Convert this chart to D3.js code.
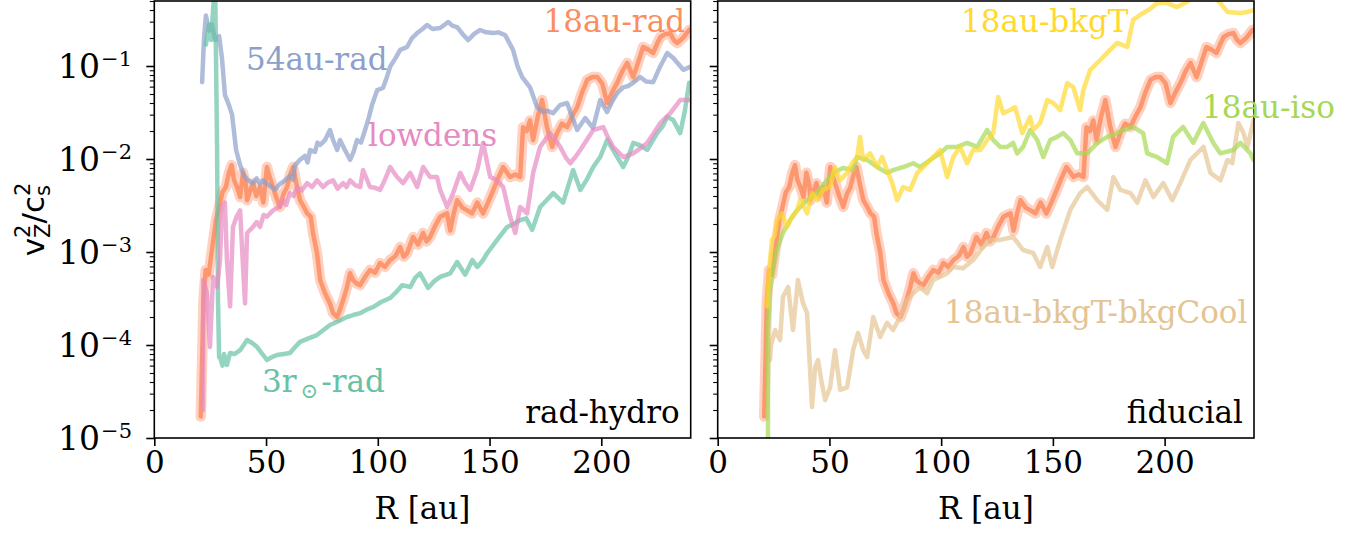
<!DOCTYPE html>
<html>
<head>
<meta charset="utf-8">
<script src="https://cdn.jsdelivr.net/npm/d3@7"></script>
<style>
  body { margin: 0; background: #fff; }
  text { font-family: "DejaVu Serif"; fill: #000; }
</style>
</head>
<body>
<svg id="chart"></svg>
<script>
// v_z^2 / c_s^2 profiles against radius, two panels

// 18au-rad (fiducial), drawn in both panels
let rad18 = [[20.8,1.7e-5],[21.4,6.9e-5],[22.0,3.0e-4],[23.0,6.4e-4],[24.3,5.7e-4],[25.8,1.05e-3],[27.6,2.2e-3],[29.0,3.05e-3],
  [30.5,4.4e-3],[32.0,5.0e-3],[33.4,7.1e-3],[34.6,8.6e-3],[35.6,6.0e-3],[37.0,5.0e-3],[38.4,3.9e-3],[39.7,7.1e-3],[41.0,5.2e-3],
  [41.5,3.6e-3],[43.0,4.6e-3],[44.2,5.5e-3],[45.6,4.0e-3],[47.3,5.0e-3],[48.8,3.4e-3],[50.4,8.2e-3],[51.8,6.2e-3],[53.1,5.0e-3],
  [54.5,3.9e-3],[56.2,3.05e-3],[57.8,4.2e-3],[59.4,5.0e-3],[60.8,6.8e-3],[62.1,8.2e-3],[63.6,5.4e-3],[65.2,3.6e-3],[66.8,3.1e-3],
  [68.4,2.6e-3],[70.0,2.4e-3],[71.0,1.6e-3],[72.8,9.7e-4],[74.2,5.0e-4],[76.4,3.6e-4],[78.6,2.8e-4],[80.0,2.2e-4],[81.8,2.0e-4],
  [83.1,2.4e-4],[84.8,3.2e-4],[86.2,4.2e-4],[87.6,5.9e-4],[88.9,5.0e-4],[90.5,4.6e-4],[92.1,4.4e-4],[94.3,5.4e-4],[96.5,6.4e-4],
  [98.8,6.0e-4],[101.0,7.6e-4],[103.2,6.9e-4],[105.5,8.2e-4],[107.8,9.0e-4],[110.0,1.13e-3],[111.6,8.9e-4],[113.1,9.7e-4],
  [115.8,1.45e-3],[118.0,1.2e-3],[120.3,1.6e-3],[121.8,1.3e-3],[123.4,1.45e-3],[125.6,1.9e-3],[127.9,2.4e-3],[131.0,2.6e-3],
  [132.4,1.7e-3],[134.0,2.6e-3],[135.5,3.6e-3],[137.8,3.0e-3],[140.0,2.8e-3],[142.2,2.6e-3],[144.5,3.4e-3],[147.1,2.6e-3],
  [149.3,3.4e-3],[151.6,4.6e-3],[153.8,6.2e-3],[156.1,8.2e-3],[159.2,6.4e-3],[161.5,6.8e-3],[163.7,6.4e-3],[165.0,2.2e-2],
  [166.6,2.0e-2],[168.1,2.6e-2],[169.5,1.6e-2],[171.5,2.8e-2],[173.5,4.3e-2],[175.7,2.2e-2],[178.0,1.35e-2],[180.2,1.9e-2],
  [182.4,2.4e-2],[184.7,2.2e-2],[187.0,2.9e-2],[189.2,3.6e-2],[191.4,5.2e-2],[193.7,7.1e-2],[196.0,7.6e-2],[198.2,7.6e-2],
  [200.4,6.5e-2],[202.6,4.0e-2],[205.0,5.3e-2],[207.1,6.6e-2],[209.4,8.8e-2],[211.6,1.08e-1],[214.3,7.6e-2],[216.5,1.1e-1],
  [218.7,1.6e-1],[221.0,1.5e-1],[223.2,1.38e-1],[224.8,1.7e-1],[226.4,2.05e-1],[228.6,2.2e-1],[230.8,2.26e-1],[232.4,1.9e-1],
  [233.9,1.77e-1],[236.5,2.0e-1],[239.3,2.44e-1]];

let rad54 = [[21.4,6.7e-2],[22.2,1.9e-1],[23.1,3.5e-1],[24.5,2.4e-1],[25.8,2.8e-1],[27.2,1.9e-1],[29.0,2.1e-1],[30.3,1.2e-1],
  [31.6,4.9e-2],[33.4,3.8e-2],[34.8,3.0e-2],[36.6,1.25e-2],[38.4,8.6e-3],[40.1,6.7e-3],[41.9,5.9e-3],[44.2,5.5e-3],[45.8,6.2e-3],
  [47.3,5.4e-3],[48.6,5.9e-3],[50.0,5.5e-3],[51.8,5.1e-3],[54.0,4.7e-3],[56.2,5.4e-3],[58.5,5.9e-3],[60.7,6.6e-3],[62.0,6.0e-3],
  [63.0,8.6e-3],[65.2,9.8e-3],[67.4,1.08e-2],[68.6,9.2e-3],[69.7,1.25e-2],[71.9,1.19e-2],[73.0,1.5e-2],[74.2,1.42e-2],[76.4,1.6e-2],
  [78.6,2.05e-2],[80.0,1.6e-2],[81.8,1.25e-2],[83.1,1.6e-2],[85.3,1.25e-2],[87.6,9.8e-3],[89.2,1.2e-2],[90.7,1.6e-2],[92.5,1.5e-2],
  [94.3,2.05e-2],[96.0,2.8e-2],[97.4,3.8e-2],[99.7,5.5e-2],[102.3,5.8e-2],[104.0,7.5e-2],[105.5,9.8e-2],[107.8,1.2e-1],
  [110.0,1.49e-1],[113.1,1.6e-1],[115.3,2.0e-1],[117.6,2.26e-1],[120.0,2.5e-1],[122.1,2.76e-1],[124.5,2.5e-1],[127.9,2.56e-1],
  [131.5,2.97e-1],[133.5,2.7e-1],[135.5,2.62e-1],[138.0,2.2e-1],[140.4,1.9e-1],[143.0,2.2e-1],[145.8,2.44e-1],[148.5,2.3e-1],
  [151.6,2.26e-1],[154.0,2.3e-1],[157.0,2.15e-1],[160.5,1.49e-1],[162.5,1.0e-1],[164.6,7.6e-2],[168.1,5.9e-2],[171.3,3.6e-2],
  [174.0,3.2e-2],[176.0,3.3e-2],[178.4,3.1e-2],[181.5,3.8e-2],[184.7,4.0e-2],[187.0,2.8e-2],[189.2,2.05e-2],[192.8,2.76e-2],
  [196.3,2.15e-2],[199.5,4.3e-2],[202.6,3.2e-2],[205.0,4.2e-2],[207.1,5.1e-2],[209.8,5.9e-2],[212.0,6.1e-2],[214.3,6.6e-2],
  [217.4,7.6e-2],[220.0,6.8e-2],[223.2,6.7e-2],[226.0,9.5e-2],[229.5,1.38e-1],[232.2,1.22e-1],[236.7,9.1e-2],[239.8,9.8e-2]];

let lowdens = [[21.8,2.0e-5],[21.9,5.0e-4],[23.6,3.6e-4],[24.9,9.5e-5],[26.3,5.4e-4],[28.1,4.2e-4],[29.4,8.2e-4],[30.3,3.05e-3],
  [31.6,3.4e-3],[32.5,8.2e-4],[33.9,2.6e-4],[35.2,1.86e-3],[36.8,2.4e-3],[38.4,2.8e-3],[39.7,6.9e-4],[40.6,2.8e-4],[41.5,1.6e-3],
  [44.2,1.86e-3],[45.8,2.1e-3],[47.3,1.86e-3],[48.9,2.5e-3],[50.4,2.4e-3],[53.1,2.8e-3],[55.3,3.0e-3],[57.6,3.6e-3],[59.0,3.2e-3],
  [60.7,4.3e-3],[62.3,4.0e-3],[63.9,5.0e-3],[66.0,4.6e-3],[68.4,5.5e-3],[70.6,5.0e-3],[72.8,5.9e-3],[75.5,5.0e-3],[77.8,5.6e-3],
  [80.0,5.9e-3],[82.0,4.8e-3],[84.5,5.5e-3],[86.0,5.0e-3],[87.6,5.9e-3],[90.0,5.2e-3],[92.1,5.0e-3],[93.4,7.6e-3],[96.5,5.0e-3],
  [98.8,4.9e-3],[101.0,4.65e-3],[103.2,6.0e-3],[105.5,8.2e-3],[108.6,6.4e-3],[111.3,5.5e-3],[114.5,7.1e-3],[117.6,5.0e-3],
  [120.3,8.2e-3],[123.4,6.4e-3],[126.5,6.4e-3],[127.9,4.65e-3],[131.0,3.05e-3],[133.7,4.3e-3],[136.9,7.1e-3],[139.0,5.6e-3],
  [141.3,4.65e-3],[144.5,7.6e-3],[147.1,1.49e-2],[150.3,6.4e-3],[153.4,5.9e-3],[156.1,5.0e-3],[159.2,2.4e-3],[161.5,1.6e-3],
  [163.7,3.05e-3],[166.8,2.6e-3],[169.5,7.1e-3],[172.6,1.35e-2],[177.1,1.9e-2],[179.4,1.6e-2],[181.6,1.35e-2],[184.0,1.05e-2],
  [186.1,9.0e-3],[188.4,1.05e-2],[190.6,1.25e-2],[193.5,1.6e-2],[196.4,2.05e-2],[200.9,2.2e-2],[203.0,1.7e-2],[205.3,1.35e-2],
  [209.8,1.05e-2],[214.3,1.15e-2],[217.4,1.3e-2],[220.5,1.49e-2],[223.5,1.9e-2],[226.4,2.44e-2],[230.8,3.1e-2],[235.3,4.3e-2],
  [239.3,4.3e-2]];

let sun3 = [[23.1,1.7e-1],[24.5,2.8e-1],[25.4,1.9e-1],[26.3,4.0e-1],[27.2,8.0e-1],[28.1,1.25e-2],[28.5,3.0e-4],[29.0,7.4e-5],
  [29.4,7.4e-5],[30.5,6.0e-5],[31.2,8.0e-5],[32.5,6.1e-5],[33.9,8.2e-5],[36.0,8.0e-5],[38.4,8.8e-5],[40.0,1.0e-4],[41.5,1.13e-4],
  [43.8,1.05e-4],[46.0,9.5e-5],[48.0,8.2e-5],[50.4,6.9e-5],[52.6,7.4e-5],[54.9,7.8e-5],[58.0,8.0e-5],[60.7,8.2e-5],[63.0,9.5e-5],
  [65.2,1.08e-4],[69.0,1.18e-4],[72.8,1.28e-4],[75.7,1.45e-4],[78.6,1.64e-4],[82.4,1.8e-4],[86.2,2.0e-4],[89.0,2.1e-4],[92.1,2.2e-4],
  [95.0,2.4e-4],[97.9,2.56e-4],[101.5,2.9e-4],[105.5,3.2e-4],[108.2,3.7e-4],[110.9,4.4e-4],[114.5,4.2e-4],[116.8,5.3e-4],
  [118.9,5.9e-4],[122.5,4.1e-4],[125.0,4.8e-4],[127.9,5.4e-4],[132.4,5.9e-4],[135.5,7.8e-4],[139.1,5.7e-4],[142.3,8.2e-4],
  [144.5,6.9e-4],[146.8,8.0e-4],[149.0,9.75e-4],[153.4,1.35e-3],[157.9,1.86e-3],[160.8,2.0e-3],[163.7,2.2e-3],[166.4,2.3e-3],
  [169.1,1.73e-3],[172.6,3.05e-3],[175.5,3.6e-3],[178.5,4.3e-3],[182.9,3.4e-3],[187.4,7.6e-3],[190.6,4.65e-3],[193.5,6.0e-3],
  [196.4,8.2e-3],[199.5,1.05e-2],[202.6,1.6e-2],[205.3,1.25e-2],[209.8,8.2e-3],[212.0,1.05e-2],[214.3,1.49e-2],[217.4,1.4e-2],
  [220.5,1.25e-2],[225.0,1.9e-2],[227.2,2.2e-2],[229.5,2.83e-2],[232.2,2.62e-2],[235.3,1.9e-2],[237.3,3.2e-2],[239.3,6.6e-2]];

let bkgT = [[21.6,3.0e-4],[22.1,2.6e-4],[23.0,6.4e-4],[24.3,1.35e-3],[25.5,1.5e-3],[26.6,2.2e-3],[28.8,2.6e-3],[31.0,1.86e-3],
  [33.3,2.4e-3],[35.5,2.8e-3],[36.9,3.6e-3],[38.5,3.1e-3],[40.0,2.6e-3],[42.2,4.3e-3],[44.5,3.6e-3],[47.2,4.65e-3],[50.3,5.0e-3],
  [52.5,8.2e-3],[54.8,5.9e-3],[57.9,7.1e-3],[60.1,9.0e-3],[62.4,1.05e-2],[63.7,1.73e-2],[65.1,9.75e-3],[68.2,1.15e-2],
  [71.3,8.2e-3],[73.6,1.05e-2],[75.8,7.6e-3],[78.1,5.5e-3],[80.3,3.6e-3],[83.0,5.0e-3],[86.1,4.65e-3],[89.3,7.1e-3],[93.7,9.0e-3],
  [96.4,1.05e-2],[99.5,1.25e-2],[102.7,6.4e-3],[105.4,1.05e-2],[108.5,1.35e-2],[111.6,9.0e-3],[114.3,1.25e-2],[117.5,1.25e-2],
  [120.6,1.6e-2],[123.3,1.9e-2],[125.5,4.65e-2],[127.8,3.1e-2],[130.9,3.36e-2],[133.1,3.6e-2],[136.3,1.9e-2],[139.8,2.83e-2],
  [141.2,2.05e-2],[144.3,2.44e-2],[147.5,4.3e-2],[150.2,4.0e-2],[153.3,3.36e-2],[156.4,6.56e-2],[159.1,5.94e-2],[162.2,3.36e-2],
  [163.6,5.5e-2],[166.7,9.1e-2],[171.2,1.16e-1],[175.6,1.49e-1],[178.8,1.77e-1],[183.3,1.6e-1],[185.9,3.13e-1],[190.4,3.72e-1],
  [193.5,4.1e-1],[196.7,4.75e-1],[201.1,4.75e-1],[205.6,4.3e-1],[210.1,4.9e-1],[213.8,5.8e-1],[218.3,6.0e-1],[222.8,5.3e-1],
  [225.0,4.75e-1],[228.1,3.81e-1],[233.9,3.72e-1],[237.0,3.8e-1],[239.8,4.0e-1]];

let iso18 = [[22.5,7.0e-6],[22.5,1.45e-4],[23.4,3.9e-4],[24.8,6.4e-4],[26.5,1.05e-3],[29.2,1.6e-3],[32.4,2.2e-3],[35.5,2.8e-3],
  [40.0,3.6e-3],[44.5,4.3e-3],[48.9,5.9e-3],[51.6,7.1e-3],[56.1,8.0e-3],[60.6,7.6e-3],[62.4,1.05e-2],[66.9,9.75e-3],[71.3,8.2e-3],
  [75.8,7.1e-3],[78.5,7.6e-3],[83.0,8.2e-3],[87.5,9.0e-3],[90.6,8.2e-3],[95.1,9.75e-3],[99.5,1.15e-2],[102.7,1.35e-2],
  [107.2,1.35e-2],[111.6,1.49e-2],[116.1,1.35e-2],[120.6,2.05e-2],[123.3,1.6e-2],[126.4,1.35e-2],[129.6,1.35e-2],[132.2,1.49e-2],
  [134.0,1.15e-2],[136.7,1.35e-2],[139.8,2.05e-2],[143.0,1.6e-2],[145.7,1.05e-2],[148.8,1.6e-2],[151.9,1.73e-2],[154.6,1.9e-2],
  [157.8,1.6e-2],[160.9,1.15e-2],[165.4,1.15e-2],[169.9,1.49e-2],[174.3,1.73e-2],[178.8,1.9e-2],[181.5,2.05e-2],[185.9,2.21e-2],
  [190.4,1.9e-2],[192.2,1.15e-2],[196.7,1.05e-2],[201.1,9.0e-3],[203.8,1.73e-2],[208.3,2.21e-2],[212.8,1.49e-2],[217.3,2.44e-2],
  [221.8,1.49e-2],[224.9,1.15e-2],[230.8,1.25e-2],[233.9,1.49e-2],[238.4,1.15e-2],[239.8,9.75e-3]];

let bkgCool = [[23.4,6.9e-5],[23.9,1.0e-4],[25.7,1.45e-4],[27.9,1.13e-4],[29.2,3.3e-4],[31.5,4.2e-4],[33.7,1.45e-4],[35.9,5.0e-4],
  [38.2,2.8e-4],[40.0,2.2e-4],[42.2,2.15e-5],[43.6,5.8e-5],[44.9,6.9e-5],[46.5,4.0e-5],[48.1,2.56e-5],[50.3,3.5e-5],[52.5,8.8e-5],
  [54.8,3.3e-5],[57.9,3.5e-5],[60.6,8.8e-5],[62.8,1.35e-4],[65.1,8.8e-5],[66.9,7.4e-5],[69.6,2.0e-4],[72.7,1.22e-4],[75.8,1.73e-4],
  [78.5,1.45e-4],[81.6,2.0e-4],[84.8,3.05e-4],[87.5,3.6e-4],[90.6,4.2e-4],[93.7,3.6e-4],[96.4,5.0e-4],[99.5,5.4e-4],[102.7,5.9e-4],
  [105.4,6.9e-4],[109.8,6.7e-4],[114.3,8.2e-4],[118.8,1.13e-3],[121.9,1.35e-3],[126.4,1.35e-3],[132.2,1.45e-3],[136.7,1.05e-3],
  [141.2,9.75e-4],[144.3,6.9e-4],[147.5,1.13e-3],[149.7,6.9e-4],[153.3,1.35e-3],[157.8,2.83e-3],[162.2,4.3e-3],[165.4,5.0e-3],
  [169.9,3.6e-3],[174.3,2.83e-3],[177.1,6.4e-3],[180.2,4.65e-3],[184.7,4.3e-3],[187.8,3.4e-3],[191.4,5.9e-3],[195.0,3.9e-3],
  [199.4,5.5e-3],[203.4,3.6e-3],[207.0,5.5e-3],[211.5,9.75e-3],[217.4,1.35e-2],[220.5,7.1e-3],[225.0,5.9e-3],[228.1,9.75e-3],
  [230.3,9.05e-3],[233.0,2.44e-2],[235.3,1.9e-2],[237.1,1.35e-2],[239.8,2.62e-2]];

let xTicks = [0, 50, 100, 150, 200];
let yMajor = [1e-5, 1e-4, 1e-3, 1e-2, 1e-1];
let yExp = ["\u22125", "\u22124", "\u22123", "\u22122", "\u22121"];

let svgWidth = 1361;
let svgHeight = 536;
let plotTop = 1, plotBottom = 438;
let fontSize = 31;

let svg = d3.select("#chart")
  .attr("width", svgWidth)
  .attr("height", svgHeight);

let panels = [
  { x0: 154.3, x1: 690.7, name: "rad-hydro", labels: true,
    series: [
      { data: rad18, color: "#fc8d62", halo: true },
      { data: rad54, color: "#8da0cb" },
      { data: sun3, color: "#66c2a5" },
      { data: lowdens, color: "#e78ac3" }
    ] },
  { x0: 717.7, x1: 1254, name: "fiducial", labels: false,
    series: [
      { data: rad18, color: "#fc8d62", halo: true },
      { data: bkgCool, color: "#e5c494" },
      { data: iso18, color: "#a6d854" },
      { data: bkgT, color: "#ffd92f" }
    ] }
];

// minor ticks of the log axis
let yMinor = [];
yMajor.forEach(function(m) {
  for (let k = 2; k <= 9; k++) if (m * k <= 0.5) yMinor.push(m * k);
});

panels.forEach(function(p, i) {
  let xScale = d3.scaleLinear().domain([0, 240]).range([p.x0, p.x1]);
  let yScale = d3.scaleLog().domain([1e-5, 0.5]).range([plotBottom, plotTop]);

  svg.append("clipPath").attr("id", "clip" + i)
    .append("rect")
    .attr("x", p.x0).attr("y", plotTop)
    .attr("width", p.x1 - p.x0).attr("height", plotBottom - plotTop);

  let line = d3.line()
    .x(d => xScale(d[0]))
    .y(d => yScale(d[1]));

  let g = svg.append("g").attr("clip-path", `url(#clip${i})`);

  p.series.forEach(function(s) {
    if (s.halo) {
      g.append("path").datum(s.data)
        .attr("d", line)
        .attr("fill", "none")
        .attr("stroke", s.color)
        .attr("stroke-opacity", 0.4)
        .attr("stroke-width", 10.5)
        .attr("stroke-linejoin", "round")
        .attr("stroke-linecap", "round");
    }
    g.append("path").datum(s.data)
      .attr("d", line)
      .attr("fill", "none")
      .attr("stroke", s.color)
      .attr("stroke-opacity", s.halo ? 0.85 : 0.7)
      .attr("stroke-width", 4.5)
      .attr("stroke-linejoin", "round")
      .attr("stroke-linecap", "round");
  });

  // x axis
  let xAxis = d3.axisBottom(xScale).tickValues(xTicks).tickSize(8).tickSizeOuter(0).tickPadding(5);
  let gx = svg.append("g").attr("transform", `translate(0,${plotBottom})`).call(xAxis);
  gx.select(".domain").remove();
  gx.selectAll("line").attr("stroke-width", 1.6);
  gx.selectAll("text").attr("font-family", "DejaVu Serif").attr("font-size", fontSize).attr("fill", "#000");

  // y axis, major and minor ticks
  let gy = svg.append("g").attr("transform", `translate(${p.x0},0)`)
    .call(d3.axisLeft(yScale).tickValues(yMajor).tickSize(8).tickSizeOuter(0).tickFormat(""));
  gy.select(".domain").remove();
  gy.selectAll("line").attr("stroke-width", 1.6);
  let gm = svg.append("g").attr("transform", `translate(${p.x0},0)`)
    .call(d3.axisLeft(yScale).tickValues(yMinor).tickSize(4.5).tickSizeOuter(0).tickFormat(""));
  gm.select(".domain").remove();
  gm.selectAll("line").attr("stroke-width", 1.1);

  if (p.labels) {
    yMajor.forEach(function(m, j) {
      let t = svg.append("text")
        .attr("x", 132)
        .attr("y", yScale(m) + 11.5)
        .attr("text-anchor", "end")
        .attr("font-size", 33);
      t.append("tspan").text("10");
      t.append("tspan").attr("font-size", 21).attr("dx", 1).attr("dy", -11.5).text(yExp[j]);
    });
  }

  // frame
  svg.append("rect")
    .attr("x", p.x0).attr("y", plotTop)
    .attr("width", p.x1 - p.x0).attr("height", plotBottom - plotTop)
    .attr("fill", "none").attr("stroke", "#000").attr("stroke-width", 1.6);

  // axis title
  svg.append("text")
    .attr("x", (p.x0 + p.x1) / 2)
    .attr("y", 519)
    .attr("text-anchor", "middle")
    .attr("font-size", fontSize)
    .text("R [au]");

  // panel name
  svg.append("text")
    .attr("x", p.x1 - 11)
    .attr("y", 423)
    .attr("text-anchor", "end")
    .attr("font-size", fontSize)
    .text(p.name);
});

// curve labels
function label(x, y, txt, color, anchor) {
  return svg.append("text")
    .attr("x", x).attr("y", y)
    .attr("text-anchor", anchor || "start")
    .attr("font-size", fontSize)
    .style("fill", color)
    .text(txt);
}
label(246, 70, "54au-rad", "#8da0cb");
label(685, 32, "18au-rad", "#fc8d62", "end");
label(368, 146, "lowdens", "#e78ac3");
let sunLabel = svg.append("text")
  .attr("x", 262).attr("y", 392)
  .attr("font-size", fontSize)
  .style("fill", "#66c2a5");
sunLabel.append("tspan").text("3r");
sunLabel.append("tspan").attr("font-size", 21).attr("dx", 4).attr("dy", 6).text("\u2299");
sunLabel.append("tspan").attr("dx", 3).attr("dy", -6).text("-rad");

label(961, 32, "18au-bkgT", "#ffd92f");
label(1202, 118, "18au-iso", "#a6d854");
label(944, 323, "18au-bkgT-bkgCool", "#e5c494");

// y axis title, v_Z^2 / c_s^2
let yTitle = svg.append("text")
  .attr("transform", `translate(44,${(plotTop + plotBottom) / 2}) rotate(-90)`)
  .attr("text-anchor", "middle")
  .style("font-family", "DejaVu Sans")
  .attr("font-size", fontSize);
yTitle.append("tspan").text("v");
yTitle.append("tspan").attr("font-size", 21).attr("dy", -14).text("2");
yTitle.append("tspan").attr("font-size", 21).attr("dx", -13.4).attr("dy", 20).text("Z");
yTitle.append("tspan").attr("dy", -6).text("/c");
yTitle.append("tspan").attr("font-size", 21).attr("dy", -14).text("2");
yTitle.append("tspan").attr("font-size", 21).attr("dx", -13.4).attr("dy", 20).text("s");
</script>
</body>
</html>
